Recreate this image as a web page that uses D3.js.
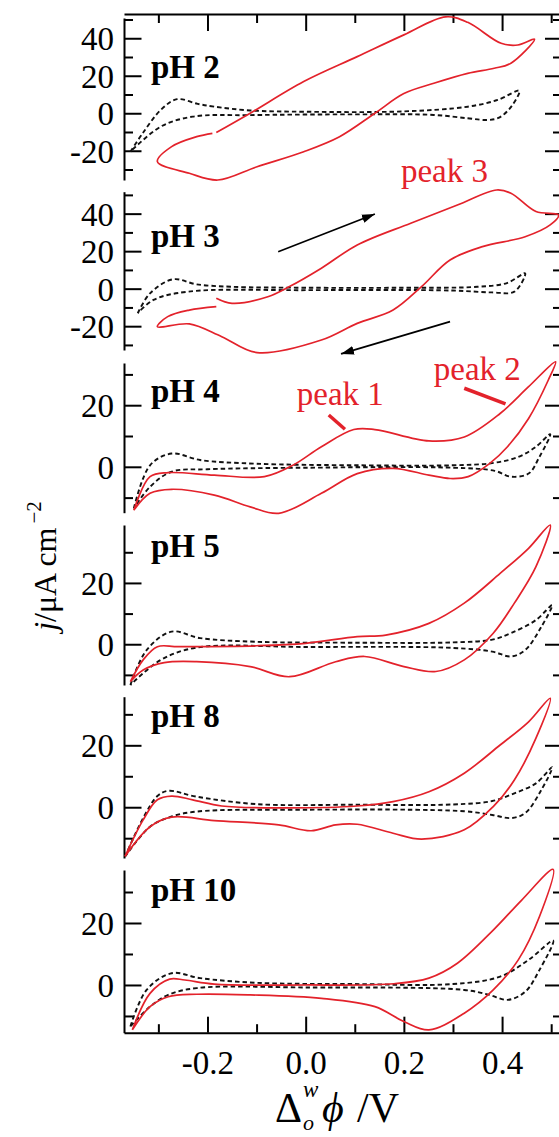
<!DOCTYPE html>
<html>
<head>
<meta charset="utf-8">
<script src="https://cdn.jsdelivr.net/npm/d3@7/dist/d3.min.js"></script>
<style>
  body { margin: 0; background: #fff; }
  svg { display: block; font-family: "Liberation Serif", "DejaVu Serif", serif; }
</style>
</head>
<body>
<div id="chart"></div>
<script>
// 数据：每条曲线为 [电位 E/V, 电流密度 j/μA cm^-2]，按扫描顺序

const phLabels = ["pH 2", "pH 3", "pH 4", "pH 5", "pH 8", "pH 10"];

const ph2Red = [[-0.182,-10.3],[-0.113,0],[-0.004,16.9],[0.105,30.2],[0.2,41.8],[0.285,51.4],[0.33,48.5],[0.398,37.3],[0.432,36.4],[0.466,39.5],
  [0.418,26.7],[0.384,24],[0.33,21.3],[0.261,16],[0.2,10.5],[0.141,0],[0.069,-12.5],[-0.004,-20.5],[-0.099,-28.5],[-0.179,-35.6],[-0.237,-32],[-0.302,-25.8],
  [-0.273,-17.8],[-0.222,-12.5],[-0.19,-10.7]];
const ph2Blank = [[-0.357,-20.5],[-0.332,-10.7],[-0.295,1.8],[-0.262,7.5],[-0.22,5],[-0.186,3.5],[-0.113,1.5],[0,0.8],[0.2,1],[0.33,3.5],[0.391,7.1],[0.435,12],
  [0.42,4],[0.395,-2.2],[0.371,-3.6],[0.33,-2.7],[0.261,-0.9],[0.1,-0.6],[-0.113,-1],[-0.23,-1.8],[-0.295,-7.1],[-0.357,-20.5]];

const ph3Red = [[-0.182,-5.1],[-0.15,-7.8],[-0.077,-4.3],[-0.033,1.1],[0.032,10.9],[0.105,23.3],[0.214,34.9],[0.309,44.6],[0.389,52.6],[0.418,50.9],[0.469,41.1],[0.515,39.3],
  [0.498,34],[0.447,27.7],[0.36,22.4],[0.294,15.3],[0.236,1.1],[0.178,-11.4],[0.105,-18.5],[0.032,-27.4],[-0.099,-34.1],[-0.171,-25.6],[-0.237,-18.8],[-0.302,-20.3],
  [-0.281,-14.9],[-0.237,-11.4],[-0.182,-9.6]];
const ph3Blank = [[-0.342,-13.1],[-0.317,-2.5],[-0.27,5],[-0.222,2.3],[-0.15,1],[0,0.5],[0.2,0.5],[0.35,1],[0.41,3],[0.447,8.2],
  [0.425,-1.6],[0.38,-2],[0.3,-1],[0,-0.8],[-0.24,-1.6],[-0.31,-6],[-0.342,-13.1]];

const ph4Red = [[-0.35,-14.1],[-0.317,-3.2],[-0.28,-1.9],[-0.186,-2.7],[-0.084,-3.2],[-0.026,0.5],[0.032,6.5],[0.098,12.1],[0.141,12.1],[0.251,8.4],[0.323,9.7],[0.396,17.3],[0.454,26],[0.509,34.1],
  [0.494,28.1],[0.454,15.7],[0.411,6.5],[0.375,1.1],[0.331,-3.2],[0.294,-3.8],[0.251,-2.7],[0.178,-0.5],[0.105,-2.2],[0.032,-8.6],[-0.055,-15.1],[-0.113,-13],[-0.186,-9.2],[-0.273,-7.3],[-0.317,-8.6],[-0.35,-14.1]];
const ph4Blank = [[-0.35,-13.5],[-0.317,0.5],[-0.273,4.3],[-0.215,2.2],[-0.1,1],[0.1,0.5],[0.3,0.5],[0.38,1.2],[0.433,3.2],[0.469,6.5],[0.498,10.6],
  [0.476,3.2],[0.454,-2.2],[0.418,-3.2],[0.385,-1.3],[0.3,-0.3],[0,-0.3],[-0.2,-0.8],[-0.273,-1.6],[-0.317,-6.5],[-0.35,-13.5]];

const ph5Red = [[-0.357,-12.2],[-0.331,-5.1],[-0.302,-0.8],[-0.259,-0.8],[-0.1,-0.5],[0,0.3],[0.105,2.5],[0.163,3],[0.251,6.8],[0.323,13.4],[0.396,23.1],[0.454,31.3],[0.498,38.9],
  [0.469,25.3],[0.425,13.4],[0.382,3.6],[0.323,-5.1],[0.265,-8.9],[0.2,-7.3],[0.12,-4],[0.061,-5.7],[-0.033,-10.6],[-0.113,-7.3],[-0.222,-5.7],[-0.288,-6],[-0.331,-8.4],[-0.357,-12.2]];
const ph5Blank = [[-0.357,-13.3],[-0.324,-1.9],[-0.273,4.1],[-0.215,2],[-0.1,0.8],[0.1,0.5],[0.3,0.6],[0.38,1.5],[0.418,3.6],[0.469,7.9],[0.502,12.8],
  [0.48,5.7],[0.447,-1.9],[0.418,-4],[0.38,-2.4],[0.3,-1.2],[0,-0.9],[-0.222,-1.1],[-0.295,-5.1],[-0.357,-13.3]];

const ph8Red = [[-0.368,-15.9],[-0.331,-4.1],[-0.302,2.4],[-0.273,3.6],[-0.23,2.4],[-0.171,0.4],[-0.05,-0.2],[0.105,0.4],[0.178,1.8],[0.251,5],[0.323,11],[0.396,20.1],[0.454,27.6],[0.498,35.2],
  [0.469,22.3],[0.425,8.8],[0.382,0.2],[0.323,-7.3],[0.236,-10.3],[0.178,-8.4],[0.105,-5.5],[0.061,-5.7],[0.011,-7.6],[-0.055,-5.7],[-0.186,-4.3],[-0.273,-3.2],[-0.317,-6.3],[-0.368,-15.9]];
const ph8Blank = [[-0.368,-16],[-0.331,-3.5],[-0.302,3.6],[-0.28,5.3],[-0.222,3.4],[-0.1,1],[0.1,0.8],[0.3,0.9],[0.38,2],[0.425,4.5],[0.469,7.7],[0.502,12.9],
  [0.48,5.6],[0.447,-1.9],[0.418,-3.5],[0.38,-2.5],[0.323,-1.3],[0,-0.8],[-0.222,-1.4],[-0.273,-3],[-0.317,-6.3],[-0.368,-16]];

const ph10Red = [[-0.353,-14.5],[-0.317,-2.7],[-0.277,1.9],[-0.246,1.6],[-0.186,0.3],[0,0],[0.18,0.4],[0.251,2.2],[0.309,7],[0.382,17.7],[0.44,27.4],[0.504,37.3],
  [0.476,22],[0.433,8.1],[0.382,-1.6],[0.323,-9.1],[0.251,-14.5],[0.2,-11.8],[0.141,-7],[0.032,-4.3],[-0.113,-3.2],[-0.222,-3],[-0.28,-3.8],[-0.317,-7],[-0.353,-14.5]];
const ph10Blank = [[-0.357,-13.4],[-0.324,-1.6],[-0.273,3.8],[-0.215,2.2],[-0.1,0.7],[0.1,0.3],[0.3,0.3],[0.396,2.7],[0.454,8.1],[0.504,14.3],
  [0.476,4.8],[0.447,-2.2],[0.411,-4.8],[0.374,-3.2],[0.323,-1.6],[0,-0.8],[-0.222,-1],[-0.28,-3.2],[-0.317,-7],[-0.357,-13.4]];

const redCurves = [ph2Red, ph3Red, ph4Red, ph5Red, ph8Red, ph10Red];
const blankCurves = [ph2Blank, ph3Blank, ph4Blank, ph5Blank, ph8Blank, ph10Blank];

// 刻度
const xMajor = [-0.2, 0.0, 0.2, 0.4];
const xMinor = [-0.3, -0.1, 0.1, 0.3, 0.5];
const yMajor = [[-20, 0, 20, 40], [-20, 0, 20, 40], [0, 20], [0, 20], [0, 20], [0, 20]];
const yMinor = [[-30, -10, 10, 30, 50], [-30, -10, 10, 30, 50], [-10, 10, 30], [-10, 10, 30], [-10, 10, 30], [-10, 10, 30]];
const jDomains = [[-35.6, 50.8], [-32.7, 51.7], [-14.9, 33.7], [-13.3, 38.9], [-16.4, 35.7], [-15.4, 37.1]];

// 布局
const W = 559, H = 1137;
const left = 124, right = 561;
const frameTop = 14, frameBottom = 1032.7;
const panelTops = [18, 191.7, 363, 525, 696.7, 870];
const panelBots = [180, 350, 512.7, 685, 858, 1032.7];
const labelBase = [78, 246.7, 402, 557, 727, 901];
const FS = 33; // 刻度和注释字号
const RED = "#e3222b";

const svg = d3.select("#chart").append("svg")
  .attr("width", W).attr("height", H);

const x = d3.scaleLinear().domain([-0.37, 0.52]).range([left, right]);

function styleAxis(g) {
  g.selectAll("path.domain").attr("stroke", "#000").attr("stroke-width", 2);
  g.selectAll(".tick line").attr("stroke", "#000").attr("stroke-width", 2);
}

function label(g, px, py, str, size, opts = {}) {
  return g.append("text")
    .attr("x", px).attr("y", py)
    .attr("font-size", size)
    .attr("text-anchor", opts.anchor || "start")
    .attr("fill", opts.fill || "#000")
    .attr("font-weight", opts.weight || "normal")
    .attr("font-style", opts.style || "normal")
    .text(str);
}

// 上下框线
const topAxis = svg.append("g").attr("transform", `translate(0,${frameTop})`);
topAxis.call(d3.axisTop(x).tickValues(xMajor).tickSize(-17).tickSizeOuter(0).tickFormat(""));
topAxis.append("g").call(d3.axisTop(x).tickValues(xMinor).tickSize(-9).tickFormat("")).select("path.domain").remove();
styleAxis(topAxis);

const botAxis = svg.append("g").attr("transform", `translate(0,${frameBottom})`);
botAxis.call(d3.axisBottom(x).tickValues(xMajor).tickSize(-16).tickSizeOuter(0).tickFormat(d => d.toFixed(1)));
botAxis.append("g").call(d3.axisBottom(x).tickValues(xMinor).tickSize(-8.5).tickFormat("")).select("path.domain").remove();
styleAxis(botAxis);
botAxis.selectAll(".tick text")
  .attr("font-size", FS).attr("fill", "#000").attr("font-family", "Liberation Serif, serif")
  .attr("y", 41.5).attr("dy", 0);

const line = d3.line().curve(d3.curveCatmullRom.alpha(0.5));
const panels = [];

phLabels.forEach((ph, i) => {
  const y = d3.scaleLinear().domain(jDomains[i]).range([panelBots[i], panelTops[i]]);
  panels.push(y);
  const g = svg.append("g");

  const la = g.append("g").attr("transform", `translate(${left},0)`);
  la.call(d3.axisLeft(y).tickValues(yMajor[i]).tickSize(-17.5).tickSizeOuter(0).tickPadding(10).tickFormat(d => String(d)));
  la.append("g").call(d3.axisLeft(y).tickValues(yMinor[i]).tickSize(-9).tickFormat("")).select("path.domain").remove();
  styleAxis(la);
  la.selectAll(".tick text")
    .attr("font-size", FS).attr("fill", "#000").attr("font-family", "Liberation Serif, serif")
    .attr("x", -10).attr("dy", "0.35em");

  const ra = g.append("g").attr("transform", `translate(${right},0)`);
  ra.call(d3.axisRight(y).tickValues(yMajor[i]).tickSize(-16).tickSizeOuter(0).tickFormat(""));
  ra.append("g").call(d3.axisRight(y).tickValues(yMinor[i]).tickSize(-8).tickFormat("")).select("path.domain").remove();
  styleAxis(ra);

  line.x(d => x(d[0])).y(d => y(d[1]));

  g.append("path").attr("d", line(blankCurves[i]))
    .attr("fill", "none").attr("stroke", "#111").attr("stroke-width", 1.9)
    .attr("stroke-dasharray", "4.5,3");
  g.append("path").attr("d", line(redCurves[i]))
    .attr("fill", "none").attr("stroke", RED).attr("stroke-width", 1.7);

  label(g, 151, labelBase[i], ph, FS, { weight: "bold" });
});

// 注释
const y3 = panels[1], y4 = panels[2];
svg.append("defs").append("marker")
  .attr("id", "ah").attr("viewBox", "0 0 12 8").attr("refX", 12).attr("refY", 4)
  .attr("markerWidth", 13).attr("markerHeight", 9).attr("markerUnits", "userSpaceOnUse")
  .attr("orient", "auto")
  .append("path").attr("d", "M0,0 L12,4 L0,8 Z").attr("fill", "#000");

const arrows = [[[-0.056, 19.7], [0.141, 39.8]], [[0.294, -17.6], [0.072, -34.8]]];
arrows.forEach(a => {
  svg.append("line")
    .attr("x1", x(a[0][0])).attr("y1", y3(a[0][1]))
    .attr("x2", x(a[1][0])).attr("y2", y3(a[1][1]))
    .attr("stroke", "#000").attr("stroke-width", 1.8)
    .attr("marker-end", "url(#ah)");
});

label(svg, x(0.194), y3(56.9), "peak 3", FS, { fill: RED });
label(svg, x(-0.018), y4(20), "peak 1", FS, { fill: RED });
label(svg, x(0.261), y4(28.1), "peak 2", FS, { fill: RED });

const peakTicks = [[[0.047, 16.8], [0.08, 12.2]], [[0.323, 25.5], [0.407, 20.4]]];
peakTicks.forEach(p => {
  svg.append("line")
    .attr("x1", x(p[0][0])).attr("y1", y4(p[0][1]))
    .attr("x2", x(p[1][0])).attr("y2", y4(p[1][1]))
    .attr("stroke", RED).attr("stroke-width", 3.5);
});

// 坐标轴标题
const yl = svg.append("text")
  .attr("transform", "translate(56,566) rotate(-90)")
  .attr("font-size", 32).attr("text-anchor", "middle");
yl.append("tspan").attr("font-style", "italic").text("j");
yl.append("tspan").text("/μA cm");
yl.append("tspan").attr("font-size", 21).attr("dx", 4).attr("dy", -15).text("−2");

label(svg, 275, 1122, "Δ", 42);
label(svg, 303, 1097, "w", 23, { style: "italic" });
label(svg, 303, 1130, "o", 22, { style: "italic" });
label(svg, 322, 1122, "ϕ", 42, { style: "italic" });
label(svg, 357, 1122, "/V", 42);
</script>
</body>
</html>
